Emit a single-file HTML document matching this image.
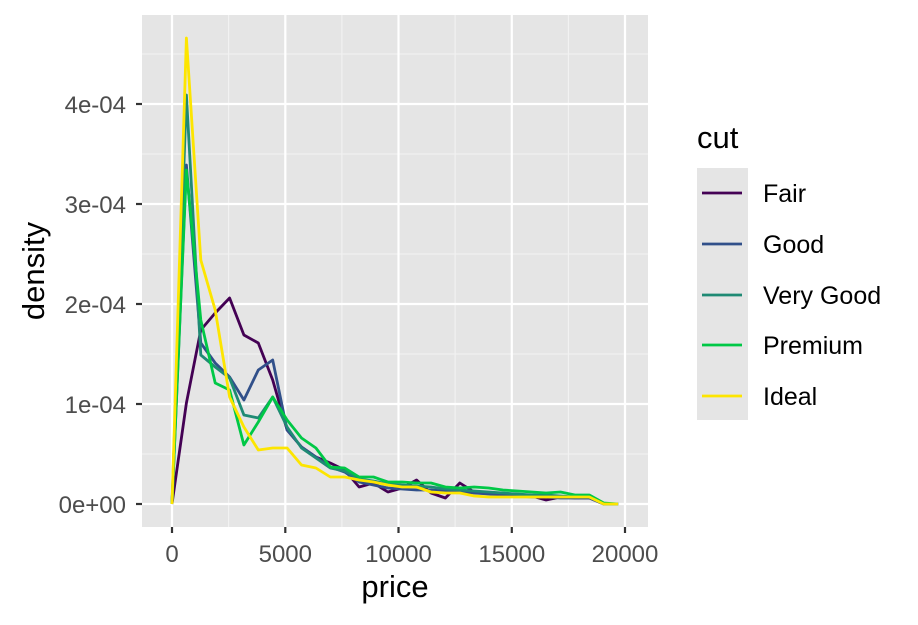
<!DOCTYPE html>
<html><head><meta charset="utf-8"><style>
body{margin:0;background:#fff;}
svg text{font-family:"Liberation Sans",Arial,sans-serif;}
</style></head><body>
<svg id="s" width="918" height="620" xmlns="http://www.w3.org/2000/svg">
<rect x="0" y="0" width="918" height="620" fill="#fff"/>
<rect x="142" y="15" width="506" height="512" fill="#e5e5e5"/>
<g stroke="#f2f2f2" stroke-width="1.1">
<line x1="228.6" y1="15" x2="228.6" y2="527"/><line x1="341.9" y1="15" x2="341.9" y2="527"/><line x1="455.1" y1="15" x2="455.1" y2="527"/><line x1="568.4" y1="15" x2="568.4" y2="527"/>
<line x1="142" y1="454" x2="648" y2="454"/><line x1="142" y1="354" x2="648" y2="354"/><line x1="142" y1="254" x2="648" y2="254"/><line x1="142" y1="154" x2="648" y2="154"/><line x1="142" y1="54" x2="648" y2="54"/>
</g>
<g stroke="#fff" stroke-width="2.2">
<line x1="172" y1="15" x2="172" y2="527"/><line x1="285.3" y1="15" x2="285.3" y2="527"/><line x1="398.5" y1="15" x2="398.5" y2="527"/><line x1="511.8" y1="15" x2="511.8" y2="527"/><line x1="625" y1="15" x2="625" y2="527"/>
<line x1="142" y1="504" x2="648" y2="504"/><line x1="142" y1="404" x2="648" y2="404"/><line x1="142" y1="304" x2="648" y2="304"/><line x1="142" y1="204" x2="648" y2="204"/><line x1="142" y1="104" x2="648" y2="104"/>
</g>
<g id="lines" fill="none" stroke-width="2.8" stroke-linejoin="round"></g>
<g stroke="#333" stroke-width="2.2">
<line x1="172" y1="527" x2="172" y2="533"/><line x1="285.3" y1="527" x2="285.3" y2="533"/><line x1="398.5" y1="527" x2="398.5" y2="533"/><line x1="511.8" y1="527" x2="511.8" y2="533"/><line x1="625" y1="527" x2="625" y2="533"/>
<line x1="136" y1="504" x2="142" y2="504"/><line x1="136" y1="404" x2="142" y2="404"/><line x1="136" y1="304" x2="142" y2="304"/><line x1="136" y1="204" x2="142" y2="204"/><line x1="136" y1="104" x2="142" y2="104"/>
</g>
<g fill="#4d4d4d" font-size="24" text-anchor="middle">
<text x="172" y="562">0</text><text x="285.3" y="562">5000</text><text x="398.5" y="562">10000</text><text x="511.8" y="562">15000</text><text x="625" y="562">20000</text>
</g>
<g fill="#4d4d4d" font-size="24" text-anchor="end">
<text x="126" y="513">0e+00</text><text x="126" y="413">1e-04</text><text x="126" y="313">2e-04</text><text x="126" y="213">3e-04</text><text x="126" y="113">4e-04</text>
</g>
<text x="395" y="597" font-size="31" text-anchor="middle" fill="#000">price</text>
<text transform="translate(44,271) rotate(-90)" font-size="31" text-anchor="middle" fill="#000">density</text>
<text x="697" y="148" font-size="31" fill="#000">cut</text>
<rect x="697" y="168" width="51" height="252" fill="#e5e5e5"/>
<g stroke-width="2.8">
<line x1="702" y1="193" x2="742" y2="193" stroke="#440154"/>
<line x1="702" y1="244" x2="742" y2="244" stroke="#31508a"/>
<line x1="702" y1="295" x2="742" y2="295" stroke="#1f8a74"/>
<line x1="702" y1="345" x2="742" y2="345" stroke="#00c846"/>
<line x1="702" y1="396" x2="742" y2="396" stroke="#fde500"/>
</g>
<g font-size="25" fill="#000">
<text x="763" y="202">Fair</text><text x="763" y="253">Good</text><text x="763" y="304">Very Good</text><text x="763" y="354">Premium</text><text x="763" y="405">Ideal</text>
</g>
</svg>
<script>
var S=[
["#440154",[504,403,330,313,298,335,343,380,430,447,457,463,470,487,483,492,488,480,493,498,483,492,493,495,495,496,500,497,498,498,504,504]],
["#31508a",[504,165,343,363,377,400,370,360,430,447,457,467,472,482,485,488,489,490,490,491,492,493,494,495,496,497,497,498,498,498,504,504]],
["#1f8a74",[504,95,355,367,378,415,418,397,427,448,458,468,471,479,481,484,485,486,487,489,490,491,492,493,494,495,495,496,497,497,504,504]],
["#00c846",[504,170,320,383,390,445,422,397,420,438,448,467,468,477,477,482,482,483,483,487,488,487,488,490,491,492,493,492,495,495,503,504]],
["#fde500",[504,38,260,310,397,427,450,448,448,465,468,477,477,480,482,485,487,487,492,493,493,496,497,497,497,497,497,497,497,497,504,504]]];
var g=document.getElementById("lines"),h="";
S.forEach(function(s){var p=s[1].map(function(y,i){return (172+i*14.39).toFixed(1)+","+y;}).join(" ");
h+='<polyline stroke="'+s[0]+'" points="'+p+'"/>';});
g.innerHTML=h;
</script>
</body></html>
